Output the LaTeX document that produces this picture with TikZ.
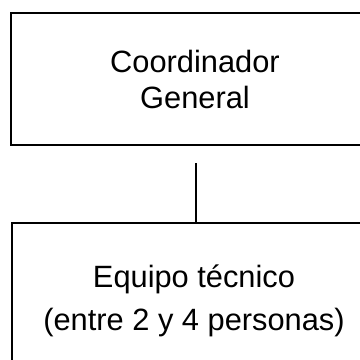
\documentclass[tikz,border=0pt]{standalone}
\usepackage{fontspec}
\setmainfont{Liberation Sans}
\begin{document}
\begin{tikzpicture}[x=1pt,y=-1pt,
  orgbox/.style={draw=black,line width=1.8pt,align=center,inner sep=0pt,font=\fontsize{30.8}{36}\selectfont},
  link/.style={draw=black,line width=1.8pt}]
\useasboundingbox (0,0) rectangle (360,360);
\clip (0,0) rectangle (360,360);
\node[orgbox,minimum width=368pt,minimum height=132pt] (coord) at (195,79) {Coordinador\\General};
\node[orgbox,minimum width=364pt,minimum height=156pt,font=\fontsize{30.8}{43}\selectfont] (equipo) at (194,301) {Equipo técnico\\(entre 2 y 4 personas)};
\coordinate (c1) at (196,163);
\draw[link] (c1) -- (c1 |- equipo.north);
\end{tikzpicture}
\end{document}
